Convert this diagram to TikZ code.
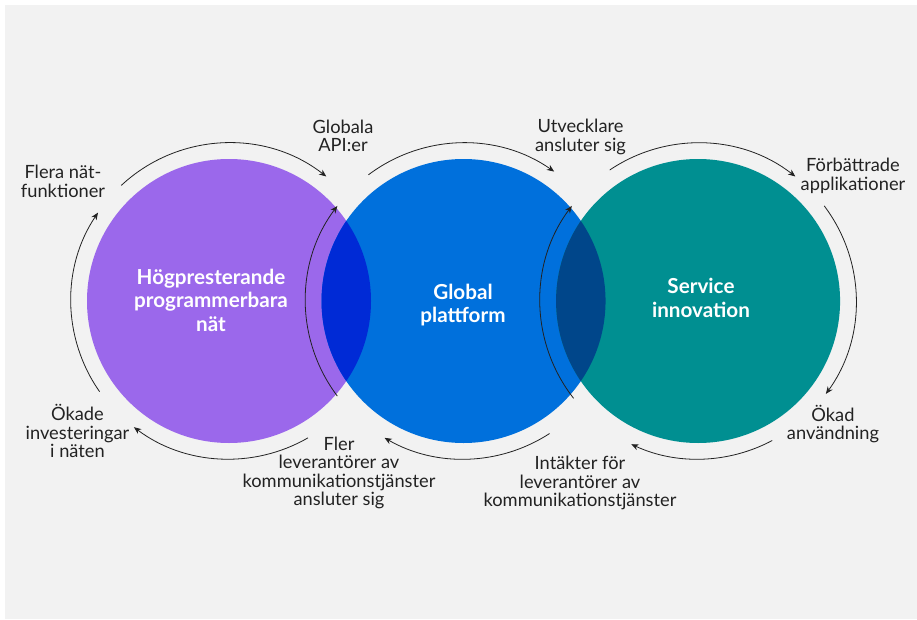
\documentclass[tikz,border=0pt]{standalone}
\usepackage{fontspec}
\setmainfont{Lato}
\usetikzlibrary{positioning}
\usetikzlibrary{arrows.meta}
\definecolor{bakgrund}{RGB}{242,242,242}
\definecolor{lila}{RGB}{155,104,235}
\definecolor{blaa}{RGB}{0,112,220}
\definecolor{turkos}{RGB}{0,143,145}
\definecolor{lilablaa}{RGB}{0,42,214}
\definecolor{morkblaa}{RGB}{0,70,138}
\definecolor{textgra}{RGB}{34,34,34}
\tikzset{
	krets/.style={circle, minimum size=213pt, inner sep=0pt},
	cykel/.style={->, >={Stealth[length=5.5pt, width=4.5pt]}, line width=0.6pt, draw=textgra},
	etikett/.style={align=center, text=textgra, inner sep=0pt, font=\fontsize{13.7}{13.9}\selectfont},
	rubrik/.style={align=center, text=white, inner sep=0pt, font=\bfseries\fontsize{15.5}{17.6}\selectfont},
}

\begin{document}
\begin{tikzpicture}[x=0.75pt, y=0.75pt, node distance=175.9pt]
\useasboundingbox (0,0) rectangle (917,619);
\fill[bakgrund] (5,0) rectangle (917,614);

% the three circles
\node[krets, fill=lila] (hog) at (229,318) {};
\node[krets, fill=blaa, right of=hog] (glob) {};
\node[krets, fill=turkos, right of=glob] (serv) {};

% overlaps
\begin{scope}
	\clip (hog.center) circle[radius=142];
	\fill[lilablaa] (glob.center) circle[radius=142];
\end{scope}
\begin{scope}
	\clip (glob.center) circle[radius=142];
	\fill[morkblaa] (serv.center) circle[radius=142];
\end{scope}

\node[rubrik] (hogtext) at (211,319) {Högpresterande\\programmerbara\\nät};
\node[rubrik] (globtext) at (463,314) {Global\\plattform};
\node[rubrik] (servtext) at (701,321) {Service\\innovation};

% arcs round the circles
\draw[cykel] ([shift={(133:158)}]hog.center) arc[start angle=133, end angle=52, radius=158];
\draw[cykel] ([shift={(215:158)}]hog.center) arc[start angle=215, end angle=146, radius=158];
\draw[cykel] ([shift={(300:158)}]hog.center) arc[start angle=300, end angle=233, radius=158];

\draw[cykel] ([shift={(217:158)}]glob.center) arc[start angle=217, end angle=143, radius=158];
\draw[cykel] ([shift={(127:158)}]glob.center) arc[start angle=127, end angle=55, radius=158];
\draw[cykel] ([shift={(303:158)}]glob.center) arc[start angle=303, end angle=240, radius=158];

\draw[cykel] ([shift={(218:158)}]serv.center) arc[start angle=218, end angle=143, radius=158];
\draw[cykel] ([shift={(124:158)}]serv.center) arc[start angle=124, end angle=52, radius=158];
\draw[cykel] ([shift={(37:158)}]serv.center) arc[start angle=37, end angle=-36, radius=158];
\draw[cykel] ([shift={(298:158)}]serv.center) arc[start angle=298, end angle=245, radius=158];

% labels
\node[etikett] (flera) at (63,437.5) {Flera nät-\\funktioner};
\node[etikett] (apier) at (343,483) {Globala\\API:er};
\node[etikett] (utv) at (580.5,482) {Utvecklare\\ansluter sig};
\node[etikett] (forb) at (853,443) {Förbättrade\\applikationer};
\node[etikett] (okade) at (77.5,188) {Ökade\\investeringar\\i näten};
\node[etikett] (fler) at (339,146) {Fler\\leverantörer av\\kommunikationstjänster\\ansluter sig};
\node[etikett] (intakt) at (580,136) {Intäkter för\\leverantörer av\\kommunikationstjänster};
\node[etikett] (okad) at (833,195) {Ökad\\användning};
\end{tikzpicture}
\end{document}
